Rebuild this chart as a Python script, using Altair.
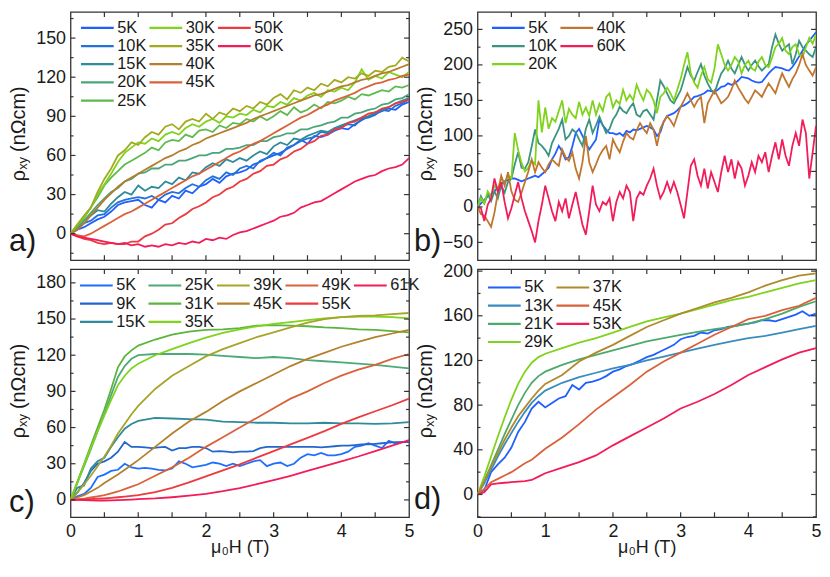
import altair as alt
import pandas as pd

FONT = "Liberation Sans, Arial, Helvetica, sans-serif"
INK = "#1a1a1a"
FRAME = "#333333"
W, HT = 341, 250

# ---------------- x grids ----------------
H_01 = [round(0.1 * i, 2) for i in range(51)]
H_005 = [round(0.05 * i, 2) for i in range(101)]
H_KNEE = [0, 0.1, 0.2, 0.3, 0.4, 0.5, 0.6, 0.7, 0.8, 0.9, 1.0,
          1.25, 1.5, 1.75, 2.0, 2.25, 2.5, 2.75, 3.0, 3.25, 3.5, 3.75, 4.0, 4.25, 4.5, 4.75, 5.0]

# ---------------- panel a (nOhm cm) ----------------
A_5K = [0,3,5,8,11,13,17,22,24,25, 26,22,20,26,24,29,27,33,31,36, 38,42,39,44,46,47,49,53,55,58,
        60,62,65,68,72,69,75,74,76,79, 81,80,84,87,90,92,94,96,95,99, 101]
A_10K = [0,4,8,10,14,15,20,24,26,27, 28,27,29,26,30,32,31,35,38,36, 41,44,42,47,45,50,52,50,56,58,
         62,60,66,68,71,73,74,78,77,80, 82,84,83,88,89,91,95,94,98,100, 103]
A_15K = [0,5,10,14,18,17,23,28,32,30, 37,33,36,35,40,38,43,41,47,46, 51,54,52,57,55,58,56,60,63,61,
         67,70,68,73,72,75,77,79,78,81, 83,85,87,89,90,93,95,97,100,102, 104]
A_20K = [0,5,10,16,22,27,32,35,40,42, 46,47,50,50,53,53,56,56,58,60, 60,62,62,65,65,66,68,68,71,71,
         74,75,77,77,80,80,82,83,85,86, 89,89,92,93,95,96,99,100,103,104, 107]
A_25K = [0,6,12,20,28,37,43,48,53,56, 59,62,66,64,70,72,71,76,74,79, 80,78,83,81,85,84,88,86,90,87,
         90,94,91,97,93,95,99,96,101,100, 102,105,103,107,106,108,110,109,113,112, 114]
A_30K = [0,7,13,20,30,38,46,55,62,66, 70,69,73,71,76,78,76,81,84,82, 86,88,85,90,89,92,91,95,93,98,
         97,101,99,104,102,106,108,105,110,109, 112,110,116,126,118,121,119,124,122,120, 124]
A_35K = [0,7,14,20,32,42,50,60,64,70, 68,74,78,76,82,84,80,86,88,86, 92,88,93,91,96,94,98,96,101,99,
         104,107,103,110,108,112,110,115,113,118, 116,120,119,123,121,125,124,128,129,135, 132]
A_40K = [0,3,8,14,20,26,31,36,40,43, 46,49,52,55,58,60,63,65,68,70, 73,75,77,79,81,83,85,88,90,92,
         94,96,98,100,102,104,106,107,109,111, 113,114,116,118,119,121,123,124,126,128, 130]
A_45K = [0,-1,-2,0,3,6,9,12,15,17, 20,23,26,29,32,35,38,41,44,46, 49,52,55,58,61,63,66,69,71,74,
         77,80,83,86,89,91,94,97,99,102, 104,106,108,111,113,115,116,118,119,121, 122]
A_50K = [0,-2,-4,-5,-7,-8,-7,-8,-8,-6, -6,-2,0,3,7,8,12,15,19,21, 24,28,30,34,36,40,42,46,48,52,
         53,57,59,63,65,69,71,75,76,80, 81,85,86,89,92,93,96,97,100,101, 103]
A_60K = [0,-2,-3,-4,-5,-6,-7,-8,-7,-9, -8,-10,-9,-10,-8,-9,-7,-8,-6,-7, -4,-5,-3,-4,-1,1,2,4,6,8,
         10,13,14,16,20,22,24,25,28,31, 34,37,40,42,44,45,48,50,51,53, 58]

# ---------------- panel b ----------------
B_5K = [0,5,10,15,18,22,28,32,36,38, 40,40,38,36,38,40,42,44,42,46,
        50,55,67,75,86,78,67,70,85,104, 110,100,90,81,88,95,123,115,109,104,
        104,102,104,100,107,105,109,108,110,112, 114,112,109,100,105,120,128,130,132,136,
        141,143,146,150,155,156,158,160,164,163, 162,165,169,170,174,172,174,178,183,182,
        181,178,176,175,176,182,188,193,197,196, 195,193,192,197,204,212,220,228,234,240, 246]
B_10K = [0,15,5,18,8,22,12,30,20,35, 40,60,77,55,54,63,85,109,90,86,
         80,72,90,100,110,123,95,100,109,105, 95,86,110,123,104,115,127,115,104,110,
         123,130,141,135,132,140,146,130,127,135, 137,130,123,150,178,170,160,150,146,155,
         164,180,197,185,178,190,201,185,174,165, 160,175,188,195,206,195,188,200,211,200,
         192,200,206,198,192,197,201,225,243,230, 220,225,229,201,215,234,225,220,215,211, 225]
B_20K = [0,12,5,22,15,30,25,40,32,45, 40,104,80,62,50,55,65,60,150,105,
         140,110,125,120,135,150,118,138,130,125, 148,130,140,128,150,130,145,135,155,160,
         140,150,145,165,150,158,150,172,160,150, 165,160,150,132,155,160,168,160,150,165,
         180,200,218,188,175,168,185,197,180,175, 195,229,215,200,192,200,211,205,188,200,
         206,195,192,205,211,200,197,210,225,230, 238,220,215,225,229,215,211,225,238,230, 243]
B_40K = [0,-10,-12,-20,-28,-8,20,44,30,49, 22,10,7,20,35,50,67,49,63,55,
         49,60,67,62,58,81,70,65,77,54, 40,63,100,63,49,60,72,80,86,67,
         95,85,77,92,104,98,95,108,118,110, 104,118,109,86,110,120,128,122,114,128,
         141,150,160,150,141,150,155,118,146,155, 164,155,146,150,155,165,178,168,160,152,
         146,155,164,160,155,165,174,167,160,175, 188,178,169,180,188,200,215,200,192,185, 197]
B_60K = [0,-2,-20,3,12,40,21,35,7,-16, -2,17,35,12,-6,-20,-34,-50,-20,3,
         30,12,-6,-20,7,-6,12,-16,3,21, -2,-25,-39,-6,30,3,-6,7,3,12,
         -20,7,21,12,30,21,-20,12,21,17, 30,40,54,30,12,21,35,21,35,21,
         3,-16,21,58,67,44,30,54,26,49, 35,21,49,72,49,67,40,63,54,30,
         44,63,49,72,63,77,49,72,91,67, 95,72,58,86,104,86,123,104,40,77, 114]

# ---------------- panel c ----------------
C_5K = [0,3,5,10,19,21,24,25,30,27, 26,26.5,26,25,24.5,26,32,30,27,28, 29,31,30,28,30,28,30,32,33,28,
        30,31,28,30,35,38,37,39,37,37, 38,40,44,45,47,45,43,49,47,48, 48]
C_9K = [0,6,14,24,30,32,35,40,48,44, 44,43.5,43,43.5,44,41,43,43,44,44, 43,40,40.5,40,39.5,40,40,40.5,43,44,
        44,44,44,44,44,44,44,43.5,44,44.5, 45,45,45.5,46,46,46.5,47,47.5,48,48, 48]
C_15K = [0,10,12,26,32,35,44,52,59,63,65.5, 68,67.5,67,66.5,65,64.5,64,64,63.5,63.5,64,63.5,63.5,63,63.5,64.5]
C_25K = [0,14,28,42,57,71,87,102,111,117,120, 121,121,121,120.5,119.5,118.5,117.5,118.5,117.5,116,115,114,113,112,110.5,109]
C_31K = [0,15,30,45,60,75,92,110,119,124,128, 133,137,139.5,141,141.5,142.5,144.5,145,144.5,144,143,142.5,141.5,141,140,139]
C_35K = [0,14,29,43,57,70,83,95,103,109,113, 120,125,130,134.5,138.5,141.5,144,146,147.5,149,150.5,151.5,152,152,151.5,150.5]
C_39K = [0,6,13,20,28,36,45,55,63,71,78, 92,103,111,119,125,130,135,139,143,147,150,151.5,152.5,153,154,155]
C_45K = [0,2,4,7,10,14,17.5,21,25,29,33, 44,55,65,73,82,90,97,104,111,117,122,127,131,135,138,141]
C_49K = [0,0.5,1,2,3,4,5.5,7,9,11,13, 20,27,35,44,52,60,68,76,84,90,97,103,108,112,117,121]
C_55K = [0,0.2,0.4,0.7,1,1.3,1.7,2.2,2.8,3.4,4, 6.5,10,14.5,19.5,24.5,29.5,35,40.5,46,51.5,57,63,68.5,73.5,78.5,84]
C_61K = [0,0,-0.2,-0.4,-0.5,-0.5,-0.4,-0.2,0,0.3,0.6, 1.2,2.2,3.5,5,7.2,9.8,13,16.5,20,24,28,32,36,40.5,45,49.5]

# ---------------- panel d ----------------
D_5K = [0,4,20,27,33,42,56,65,77,83, 78,82,86,88,98,94,100,101,103,106, 110,112,115,117,120,123,125,128,131,134,
        139,141,142,145,144,147,148,150,151,152, 153,154,156,156,155,157,159,161,164,160, 162]
D_13K = [0,10,22,34,45,55,65,74,82,88,93, 100,105,109,113,116,120,123.5,127,130.5,134,137,140,142,145,148,151]
D_21K = [0,12,26,40,54,67,80,91,100,106,110, 116,121,125,129,133,137,140,143,145.5,148,150,153,157,162,168,173]
D_29K = [0,16,34,52,69,85,99,110,118,123,126, 131,136,140,145,150,155,158.5,162,166,170,174,177,181,185,189,192]
D_37K = [0,12,25,37,49,60,70,78,86,93,99, 107,119,127,134,142,150,156,162,167,172,176,181,187,192,196,198]
D_45K = [0,5,11,14,17,20,24,28,31,36,41, 51,63,76,87,98,110,119,127,135,143,150,157,160,165,169,176]
D_53K = [0,2,9,10,10.5,11,11.5,12,13,16,19, 24,29,35,44,52,60,68,77,83,90,98,107,114,121,127,131]

# ---------------- colours / legend orders (column by column, blanks pad the grid) ----------------
COL_A = {"5K": "#1f5fff", "10K": "#2472d8", "15K": "#2e8b9a", "20K": "#4aa67a", "25K": "#5fba4e",
         "30K": "#7fd31c", "35K": "#a3aa1e", "40K": "#b57d2c", "45K": "#d9623a", "50K": "#ec3a3e", "60K": "#f21c5a"}
COL_B = {"5K": "#1f5fff", "10K": "#3a9480", "20K": "#7fd31c", "40K": "#c0762e", "60K": "#f21c5a"}
COL_C = {"5K": "#1f6fff", "9K": "#2266cc", "15K": "#2e8b9a", "25K": "#4caa78", "31K": "#5cb43e", "35K": "#7fd31c",
         "39K": "#a8a42a", "45K": "#b5802c", "49K": "#d9623a", "55K": "#ec3a3e", "61K": "#f21c5a"}
COL_D = {"5K": "#1f5fff", "13K": "#3a8cc0", "21K": "#4caa6a", "29K": "#7fd31c", "37K": "#b08a2c",
         "45K": "#d9623a", "53K": "#f21c5a"}

ORD_A = ["5K", "10K", "15K", "20K", "25K", "30K", "35K", "40K", "45K", "z1", "50K", "60K", "z2", "z3", "z4"]
ORD_B = ["5K", "10K", "20K", "40K", "60K", "z1"]
ORD_C = ["5K", "9K", "15K", "25K", "31K", "35K", "39K", "45K", "z1", "49K", "55K", "z2", "61K", "z3", "z4"]
ORD_D = ["5K", "13K", "21K", "29K", "37K", "45K", "53K", "z1"]

SER_A = [("5K", H_01, A_5K), ("10K", H_01, A_10K), ("15K", H_01, A_15K), ("20K", H_01, A_20K),
         ("25K", H_01, A_25K), ("30K", H_01, A_30K), ("35K", H_01, A_35K), ("40K", H_01, A_40K),
         ("45K", H_01, A_45K), ("50K", H_01, A_50K), ("60K", H_01, A_60K)]
SER_B = [("5K", H_005, B_5K), ("10K", H_005, B_10K), ("20K", H_005, B_20K), ("40K", H_005, B_40K),
         ("60K", H_005, B_60K)]
SER_C = [("5K", H_01, C_5K), ("9K", H_01, C_9K), ("15K", H_KNEE, C_15K), ("25K", H_KNEE, C_25K),
         ("31K", H_KNEE, C_31K), ("35K", H_KNEE, C_35K), ("39K", H_KNEE, C_39K), ("45K", H_KNEE, C_45K),
         ("49K", H_KNEE, C_49K), ("55K", H_KNEE, C_55K), ("61K", H_KNEE, C_61K)]
SER_D = [("5K", H_01, D_5K), ("13K", H_KNEE, D_13K), ("21K", H_KNEE, D_21K), ("29K", H_KNEE, D_29K),
         ("37K", H_KNEE, D_37K), ("45K", H_KNEE, D_45K), ("53K", H_KNEE, D_53K)]

X_TICKS = [0.5, 1, 1.5, 2, 2.5, 3, 3.5, 4, 4.5]


def long_df(series):
    rows = []
    for i, (name, hs, vs) in enumerate(series):
        for h, v in zip(hs, vs):
            rows.append({"T": name, "H": h, "v": v, "k": i})
    return pd.DataFrame(rows)


ONE = pd.DataFrame({"k": [0]})


def txt(s, x, y, **kw):
    return alt.Chart(ONE).mark_text(text=s, font=FONT, color=INK, **kw).encode(
        x=alt.value(x), y=alt.value(y))


def panel(series, colors, order, ncols, lxy, ydom, ymajor, yminor, letter, letter_xy, show_x):
    df = long_df(series)
    xs = alt.Scale(domain=[0, 5], nice=False, zero=False)
    ys = alt.Scale(domain=ydom, nice=False, zero=False)
    rng = [colors.get(k, "rgba(0,0,0,0)") for k in order]
    if show_x:
        xaxis = alt.Axis(values=[0, 1, 2, 3, 4, 5], format="d", ticks=False, tickSize=0, domain=False,
                         grid=False, labelFontSize=18, labelColor=INK, labelPadding=5, labelFlush=False,
                         title="μ₀H (T)", titleFontSize=18, titleFontWeight="normal", titleColor=INK,
                         titlePadding=-2)
    else:
        xaxis = None
    yaxis = alt.Axis(values=ymajor, format="d", ticks=False, tickSize=0, domain=False, grid=False,
                     labelFontSize=18, labelColor=INK, labelPadding=5, labelFlush=False, title=None)
    lines = alt.Chart(df).mark_line(strokeWidth=1.8, clip=True).encode(
        x=alt.X("H:Q", scale=xs, axis=xaxis),
        y=alt.Y("v:Q", scale=ys, axis=yaxis),
        color=alt.Color("T:N", scale=alt.Scale(domain=order, range=rng),
                        legend=alt.Legend(orient="none", legendX=lxy[0], legendY=lxy[1], columns=ncols,
                                          direction="vertical", gridAlign="none",
                                          symbolType="stroke", symbolSize=1089, symbolStrokeWidth=2.2,
                                          labelFontSize=16.5, labelColor=INK, labelOffset=2,
                                          columnPadding=1, rowPadding=0.3, padding=0, clipHeight=18,
                                          title=None, labelLimit=200,
                                          labelExpr="indexof(datum.label, 'z') == 0 ? '' : datum.label")),
        order=alt.Order("k:Q"),
    )

    def rule_y(vals, x0, x1):
        return alt.Chart(pd.DataFrame({"v": vals})).mark_rule(color=FRAME, strokeWidth=1.2).encode(
            y=alt.Y("v:Q", scale=ys, axis=yaxis), x=alt.value(x0), x2=alt.value(x1))

    def rule_x(y0, y1):
        return alt.Chart(pd.DataFrame({"H": X_TICKS})).mark_rule(color=FRAME, strokeWidth=1.2).encode(
            x=alt.X("H:Q", scale=xs, axis=xaxis), y=alt.value(y0), y2=alt.value(y1))

    cy = HT / 2 + 34
    layers = [
        lines,
        rule_y(ymajor, 0, 5), rule_y(ymajor, W - 5, W),
        rule_y(yminor, 0, 3), rule_y(yminor, W - 3, W),
        rule_x(HT - 5, HT), rule_x(0, 5),
        txt("ρ", -46, cy, angle=270, align="right", baseline="alphabetic", fontSize=20),
        txt("xy", -46, cy, angle=270, align="left", baseline="alphabetic", fontSize=13, dy=2),
        txt("(nΩcm)", -46, cy, angle=270, align="left", baseline="alphabetic", fontSize=20, dx=18),
        txt(letter, letter_xy[0], HT - letter_xy[1], align="left", baseline="alphabetic", fontSize=31),
    ]
    return alt.layer(*layers).properties(width=W, height=HT)


p_a = panel(SER_A, COL_A, ORD_A, 3, (9, 7), [-20.3, 170], [0, 30, 60, 90, 120, 150],
            [-15, 15, 45, 75, 105, 135, 165], "a)", (-62, 9), False)
p_b = panel(SER_B, COL_B, ORD_B, 2, (13, 7), [-75, 274.5], [-50, 0, 50, 100, 150, 200, 250],
            [-25, 25, 75, 125, 175, 225], "b)", (-64, 9), False)
p_c = panel(SER_C, COL_C, ORD_C, 5, (8, 7.5), [-14.4, 191.4], [0, 30, 60, 90, 120, 150, 180],
            [15, 45, 75, 105, 135, 165], "c)", (-62, 5), True)
p_d = panel(SER_D, COL_D, ORD_D, 2, (9, 9.5), [-20.4, 201.8], [0, 40, 80, 120, 160, 200],
            [-20, 20, 60, 100, 140, 180], "d)", (-64, 8), True)

chart = alt.concat(p_a, p_b, p_c, p_d, columns=2, spacing={"row": 9, "column": 69}, bounds="flush")
chart = chart.resolve_scale(x="independent", y="independent", color="independent")
chart = chart.resolve_legend(color="independent")
chart = chart.properties(padding=0, background="white")
chart = chart.configure_view(stroke=FRAME, strokeWidth=1.3).configure_text(font=FONT).configure_axis(
    labelFont=FONT, titleFont=FONT).configure_legend(labelFont=FONT)

chart.save("out.html", embed_options={"renderer": "svg", "actions": False})
